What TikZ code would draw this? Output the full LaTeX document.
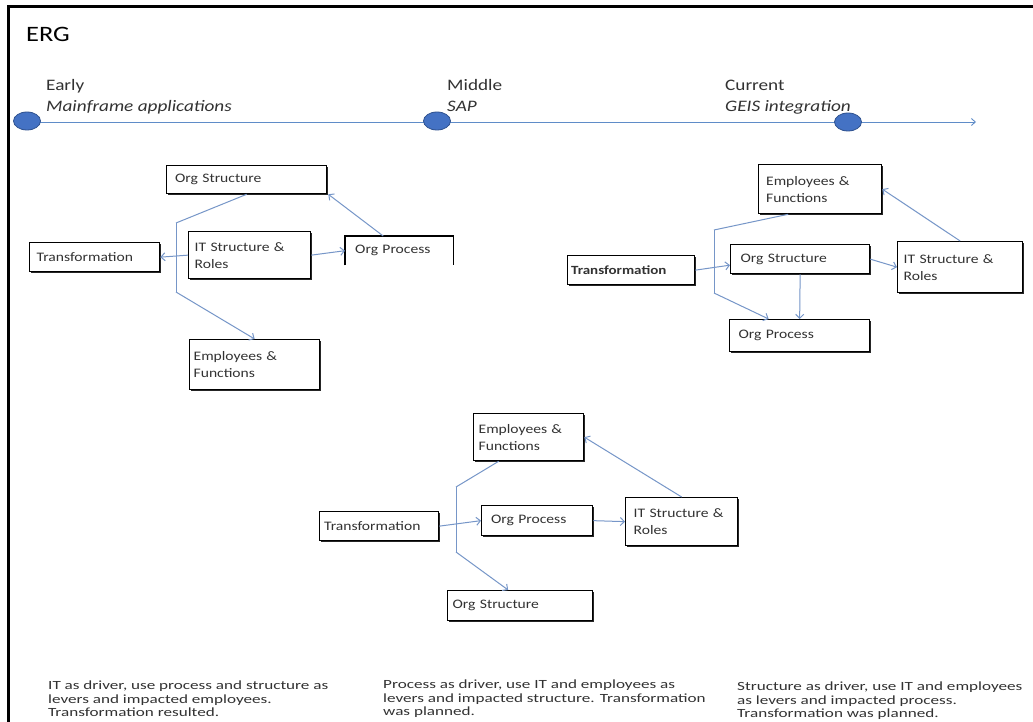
\documentclass[tikz,border=0pt]{standalone}
\usepackage{fontspec}
\setmainfont{Carlito}
\newfontfamily\boxfont[FakeStretch=1.2]{Carlito}
\newfontfamily\notefont[FakeStretch=1.37]{Carlito}
\usetikzlibrary{arrows.meta,calc,shadows,shapes.geometric}

\definecolor{linkblue}{RGB}{118,150,200}
\definecolor{lineblue}{RGB}{95,140,200}
\definecolor{dotfill}{RGB}{68,114,196}
\definecolor{dotedge}{RGB}{47,82,143}
\definecolor{txt}{RGB}{50,50,50}

\tikzset{
  x=1pt, y=-1pt,
  stepbox/.style={draw=black, line width=1.3pt, fill=white, inner sep=0pt,
    anchor=north west, align=left, text=txt,
    font=\boxfont\fontsize{13}{17}\selectfont,
    drop shadow={shadow xshift=1pt, shadow yshift=-1pt, fill=black!85, opacity=1}},
  openbox/.style={draw=none, fill=white, inner sep=0pt,
    anchor=north west, align=left, text=txt,
    font=\boxfont\fontsize{13}{17}\selectfont},
  link/.style={draw=linkblue, line width=1pt},
  linkarrow/.style={link, -{Straight Barb[length=4pt,width=8pt]}},
  milestone/.style={ellipse, draw=dotedge, fill=dotfill, line width=0.8pt,
    minimum width=27pt, minimum height=18pt, inner sep=0pt},
  phase/.style={anchor=base west, text=txt, inner sep=0pt,
    font=\boxfont\fontsize{16}{19}\selectfont},
  note/.style={anchor=north west, align=left, text=txt, inner sep=0pt,
    font=\notefont\fontsize{12.5}{13.3}\selectfont},
}

\begin{document}
\begin{tikzpicture}
\useasboundingbox (0,0) rectangle (1033,722);
\fill[white] (0,0) rectangle (1033,722);

% outer frame
\draw[line width=3pt] (8,722) -- (8,7) -- (1033,7);

% title
\node[anchor=base west, inner sep=0pt, font=\boxfont\fontsize{22}{26}\selectfont] (title) at (26,42) {ERG};

% time line
\coordinate (tlstart) at (14,122);
\coordinate (tlend) at (976,122);
\draw[draw=lineblue, line width=0.9pt, -{Straight Barb[length=4pt,width=7pt]}] (tlstart) -- (tlend);
\node[milestone] (m1) at (27,121) {};
\node[milestone] (m2) at (437,121) {};
\node[milestone] (m3) at (848,122) {};

\node[phase] (early) at (46,91) {Early};
\node[phase, font=\boxfont\itshape\fontsize{16}{19}\selectfont] (earlyd) at (46,112) {Mainframe applications};
\node[phase] (middle) at (447,91) {Middle};
\node[phase, font=\boxfont\itshape\fontsize{16}{19}\selectfont] (middled) at (447,112) {SAP};
\node[phase] (current) at (725,91) {Current};
\node[phase, font=\boxfont\itshape\fontsize{16}{19}\selectfont] (currentd) at (725,112) {GEIS integration};

% ---------- early: IT as driver ----------
\node[stepbox, minimum width=160pt, minimum height=28pt, text width=145pt] (os1) at (166,165) {\hspace*{1pt}Org Structure};
\node[stepbox, minimum width=130pt, minimum height=29pt, text width=118pt] (tr1) at (29,242) {\hspace*{1pt}Transformation};
\node[stepbox, minimum width=122pt, minimum height=47pt, text width=112pt] (it1) at (188,231) {\hspace*{1pt}IT Structure \&\\\hspace*{1pt}Roles};
\node[openbox, minimum width=108pt, minimum height=29pt, text width=96pt] (op1) at (345,236) {\hspace*{4pt}Org Process};
\draw[line width=1.3pt] (op1.south west) -- (op1.north west) -- (op1.north east) -- (op1.south east);
\node[stepbox, minimum width=130pt, minimum height=50pt, text width=122pt] (ef1) at (189,339) {Employees \&\\Functions};

\coordinate (b1t) at (176,223);
\coordinate (b1b) at (176,292);
\draw[link] (b1t) -- (b1b);
\draw[link] (b1t) -- (os1.south);
\draw[linkarrow] (b1b) -- (ef1.north);
\draw[linkarrow] (it1.west) -- (tr1.east);
\draw[linkarrow] (it1.east) -- (op1.west);
\draw[linkarrow] ([xshift=-16pt]op1.north) -- ([xshift=1pt]os1.south east);

% ---------- current: structure as driver ----------
\node[stepbox, minimum width=123pt, minimum height=49pt, text width=110pt] (ef2) at (758,164) {\hspace*{1pt}Employees \&\\\hspace*{1pt}Functions};
\node[stepbox, minimum width=127pt, minimum height=29pt, text width=120pt, font=\boxfont\bfseries\fontsize{12.5}{17}\selectfont] (tr2) at (567,255) {Transformation};
\node[stepbox, minimum width=139pt, minimum height=29pt, text width=125pt] (os2) at (730,244) {\hspace*{3pt}Org Structure};
\node[stepbox, minimum width=125pt, minimum height=51pt, text width=115pt] (it2) at (897,241) {\hspace*{1pt}IT Structure \&\\\hspace*{1pt}Roles};
\node[stepbox, minimum width=140pt, minimum height=32pt, text width=128pt] (op2) at (729,319) {\hspace*{3pt}Org Process};

\coordinate (b2t) at (714,230);
\coordinate (b2b) at (714,293);
\draw[link] (b2t) -- (b2b);
\draw[link] (b2t) -- ([xshift=-32pt]ef2.south);
\draw[linkarrow] (tr2.east) -- ([yshift=-6pt]os2.west);
\draw[linkarrow] (b2b) -- ([xshift=-31pt]op2.north);
\draw[linkarrow] (os2.south) -- (op2.north);
\draw[linkarrow] (os2.east) -- (it2.west);
\draw[linkarrow] (it2.north) -- (ef2.east);

% ---------- middle: process as driver ----------
\node[stepbox, minimum width=110pt, minimum height=47pt, text width=100pt] (ef3) at (473,413) {Employees \&\\Functions};
\node[stepbox, minimum width=119pt, minimum height=29pt, text width=110pt] (tr3) at (319,511) {Transformation};
\node[stepbox, minimum width=111pt, minimum height=30pt, text width=98pt] (op3) at (481,505) {\hspace*{3pt}Org Process};
\node[stepbox, minimum width=112pt, minimum height=48pt, text width=100pt] (it3) at (625,497) {\hspace*{2pt}IT Structure \&\\\hspace*{2pt}Roles};
\node[stepbox, minimum width=145pt, minimum height=30pt, text width=135pt] (os3) at (447,590) {Org Structure};

\coordinate (b3t) at (456,487);
\coordinate (b3b) at (456,552);
\draw[link] (b3t) -- (b3b);
\draw[link] (b3t) -- ([xshift=-30pt]ef3.south);
\draw[linkarrow] (tr3.east) -- (op3.west);
\draw[linkarrow] (b3b) -- ([xshift=-12pt]os3.north);
\draw[linkarrow] (op3.east) -- (it3.west);
\draw[linkarrow] (it3.north) -- (ef3.east);

% ---------- notes ----------
\node[note] (n1) at (48,681) {IT as driver, use process and structure as\\levers and impacted employees.\\Transformation resulted.};
\node[note] (n2) at (383,680) {Process as driver, use IT and employees as\\levers and impacted structure. Transformation\\was planned.};
\node[note] (n3) at (737,682) {Structure as driver, use IT and employees\\as levers and impacted process.\\Transformation was planned.};
\end{tikzpicture}
\end{document}
